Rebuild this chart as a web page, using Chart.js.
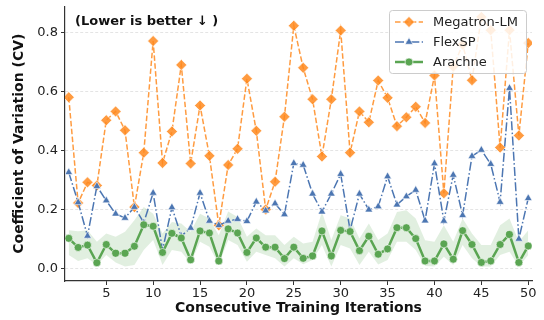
<!DOCTYPE html>
<html>
<head>
<meta charset="utf-8">
<script src="https://cdn.jsdelivr.net/npm/chart.js"></script>
<style>
  html, body { margin: 0; padding: 0; background: #fff; }
</style>
</head>
<body>
<canvas id="cv" width="544" height="320"></canvas>
<script>
// iterations 1..50
const iterations = [1,2,3,4,5,6,7,8,9,10,11,12,13,14,15,16,17,18,19,20,21,22,23,24,25,
                    26,27,28,29,30,31,32,33,34,35,36,37,38,39,40,41,42,43,44,45,46,47,48,49,50];

const megatron = [0.581,0.222,0.292,0.281,0.503,0.533,0.469,0.208,0.393,0.772,
                  0.358,0.465,0.691,0.356,0.553,0.382,0.146,0.351,0.406,0.644,
                  0.467,0.200,0.294,0.515,0.824,0.681,0.574,0.380,0.574,0.808,
                  0.393,0.533,0.496,0.638,0.579,0.483,0.513,0.549,0.494,0.655,
                  0.255,0.685,0.760,0.639,0.854,0.809,0.410,0.809,0.451,0.765];

const flexsp = [0.326,0.224,0.110,0.279,0.230,0.185,0.171,0.208,0.155,0.256,
                0.062,0.207,0.110,0.137,0.256,0.161,0.146,0.161,0.167,0.160,
                0.226,0.196,0.220,0.183,0.357,0.351,0.253,0.192,0.253,0.320,
                0.130,0.253,0.199,0.210,0.312,0.216,0.244,0.266,0.162,0.356,
                0.161,0.317,0.180,0.381,0.402,0.354,0.225,0.612,0.100,0.238];

const arachne = [0.102,0.071,0.079,0.019,0.081,0.051,0.051,0.075,0.148,0.143,
                 0.054,0.119,0.103,0.029,0.127,0.120,0.025,0.134,0.120,0.054,
                 0.103,0.072,0.072,0.033,0.072,0.034,0.042,0.127,0.042,0.129,
                 0.125,0.060,0.109,0.048,0.066,0.138,0.138,0.101,0.025,0.025,
                 0.083,0.031,0.128,0.081,0.020,0.025,0.081,0.115,0.020,0.076];

// shaded band around Arachne
const arachneHigh = [0.129,0.126,0.129,0.090,0.118,0.107,0.124,0.163,0.208,0.185,
                     0.118,0.157,0.152,0.124,0.185,0.169,0.112,0.193,0.174,0.107,
                     0.135,0.112,0.112,0.079,0.107,0.084,0.090,0.191,0.096,0.180,
                     0.169,0.101,0.152,0.096,0.118,0.191,0.197,0.169,0.095,0.090,
                     0.146,0.090,0.169,0.118,0.079,0.079,0.146,0.169,0.090,0.129];
const arachneLow = [0.045,0.025,0.034,0.011,0.045,0.020,0.006,0.011,0.062,0.096,
                    0.011,0.062,0.056,0.017,0.090,0.073,0.013,0.096,0.079,0.022,
                    0.056,0.045,0.034,0.006,0.034,0.014,0.028,0.079,0.006,0.079,
                    0.067,0.011,0.056,0.013,0.028,0.090,0.090,0.062,0.008,0.006,
                    0.039,0.011,0.079,0.034,0.006,0.006,0.045,0.056,0.006,0.045];

const xTicks = [5,10,15,20,25,30,35,40,45,50];
const yTicks = [0.0,0.2,0.4,0.6,0.8];

const FONT = "'DejaVu Sans', sans-serif";
const ORANGE = "rgba(255,137,30,0.85)";
const BLUE = "#4c76b2";
const GREEN = "#5aa552";

const pts = vals => vals.map((v, i) => ({ x: iterations[i], y: v }));

const SERIES = [
    { label: "Megatron-LM", color: ORANGE, dash: [5.5, 2.4], width: 1.5, style: "rectRot", r: 5.5 },
    { label: "FlexSP", color: BLUE, dash: [9, 2.4, 1.5, 2.4], width: 1.5, style: "triangle", r: 4.5 },
    { label: "Arachne", color: GREEN, dash: [], width: 2.5, style: "circle", r: 4 }
];

// note text + legend, drawn on top of the data
const overlay = {
    id: "overlay",
    afterDraw(chart) {
        const ctx = chart.ctx;
        ctx.save();
        ctx.font = "bold 13px " + FONT;
        ctx.fillStyle = "#111";
        ctx.textBaseline = "middle";
        ctx.fillText("(Lower is better \u2193 )", 75, 22);

        // legend box
        const bx = 389.5, by = 10.5, bw = 137, bh = 63;
        ctx.beginPath();
        ctx.roundRect(bx, by, bw, bh, 3);
        ctx.fillStyle = "rgba(255,255,255,0.85)";
        ctx.fill();
        ctx.strokeStyle = "#cccccc";
        ctx.lineWidth = 1;
        ctx.stroke();

        SERIES.forEach((s, i) => {
            const y = 22 + i * 20;
            ctx.beginPath();
            ctx.setLineDash(s.dash);
            ctx.strokeStyle = s.color;
            ctx.lineWidth = s.width;
            ctx.moveTo(395, y);
            ctx.lineTo(423, y);
            ctx.stroke();
            ctx.setLineDash([]);
            ctx.fillStyle = s.color;
            ctx.strokeStyle = "rgba(255,255,255,0.8)";
            ctx.lineWidth = 0.8;
            Chart.helpers.drawPoint(ctx, { pointStyle: s.style, radius: s.r, rotation: 0, borderWidth: 0.8 }, 409, y);
            ctx.fillStyle = "#222";
            ctx.font = "13px " + FONT;
            ctx.fillText(s.label, 433, y + 1);
        });
        ctx.restore();
    }
};

const lineSet = (s, vals, order) => ({
    label: s.label,
    data: pts(vals),
    borderColor: s.color,
    borderWidth: s.width,
    borderDash: s.dash,
    pointStyle: s.style,
    pointRadius: s.r,
    pointBackgroundColor: s.color,
    pointBorderColor: "rgba(255,255,255,0.75)",
    pointBorderWidth: 0.8,
    fill: false,
    tension: 0,
    order: order
});

new Chart(document.getElementById("cv"), {
    type: "line",
    data: {
        datasets: [
            lineSet(SERIES[2], arachne, 0),
            lineSet(SERIES[1], flexsp, 1),
            lineSet(SERIES[0], megatron, 2),
            {
                label: "band-high",
                data: pts(arachneHigh),
                borderWidth: 0,
                pointRadius: 0,
                backgroundColor: "rgba(90,165,82,0.18)",
                fill: "+1",
                tension: 0,
                order: 3
            },
            {
                label: "band-low",
                data: pts(arachneLow),
                borderWidth: 0,
                pointRadius: 0,
                fill: false,
                tension: 0,
                order: 4
            }
        ]
    },
    options: {
        responsive: false,
        animation: false,
        layout: { padding: { top: 4, right: 12, left: 0, bottom: 0 } },
        plugins: { legend: { display: false }, tooltip: { enabled: false } },
        scales: {
            x: {
                type: "linear",
                min: 0.6,
                max: 50.4,
                afterBuildTicks: s => { s.ticks = xTicks.map(v => ({ value: v })); },
                afterFit: s => { s.height = 39; s.paddingLeft = 0; s.paddingRight = 0; },
                ticks: { font: { family: FONT, size: 13 }, color: "#222", padding: 1, maxRotation: 0 },
                grid: { drawOnChartArea: false, drawTicks: true, tickLength: 4, tickColor: "#333", tickWidth: 1 },
                border: { color: "#333", width: 1.2 },
                title: {
                    display: true,
                    text: "Consecutive Training Iterations",
                    font: { family: FONT, size: 14, weight: "bold" },
                    color: "#111",
                    padding: { top: 0, bottom: 3 }
                }
            },
            y: {
                min: -0.043,
                max: 0.89,
                afterBuildTicks: s => { s.ticks = yTicks.map(v => ({ value: v })); },
                afterFit: s => { s.width = 65; s.paddingTop = 0; s.paddingBottom = 0; },
                ticks: { font: { family: FONT, size: 13 }, color: "#222", padding: 3, callback: v => v.toFixed(1) },
                grid: { color: "#dddddd", lineWidth: 0.8, tickLength: 4, tickColor: "#333", tickWidth: 1, tickBorderDash: [] },
                border: { color: "#333", width: 1.2, dash: [3, 2] },
                title: {
                    display: true,
                    text: "Coefficient of Variation (CV)",
                    font: { family: FONT, size: 14, weight: "bold" },
                    color: "#111",
                    padding: { top: 11, bottom: 0 }
                }
            }
        }
    },
    plugins: [overlay]
});
</script>
</body>
</html>
